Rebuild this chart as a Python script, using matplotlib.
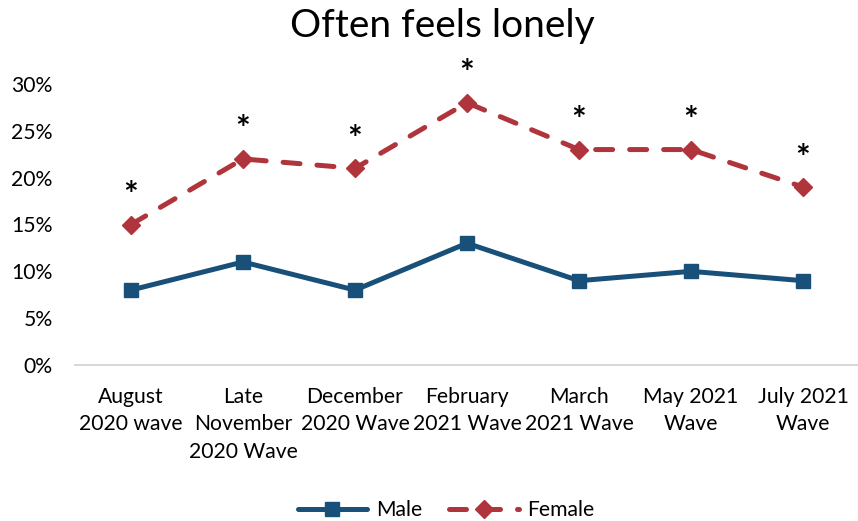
import matplotlib
matplotlib.use('Agg')
import matplotlib.pyplot as plt
from matplotlib.ticker import PercentFormatter

plt.rcParams['font.family'] = ['Lato', 'DejaVu Sans']

waves = ['August\n2020 wave', 'Late\nNovember\n2020 Wave', 'December\n2020 Wave',
         'February\n2021 Wave', 'March\n2021 Wave', 'May 2021\nWave', 'July 2021\nWave']
male = [8, 11, 8, 13, 9, 10, 9]
female = [15, 22, 21, 28, 23, 23, 19]
signif = [True, True, True, True, True, True, True]

blue = '#18507A'
red = '#B0343C'

fig = plt.figure(figsize=(8.58, 5.21), dpi=100)
ax = fig.add_axes([75/858, 156/521, 784/858, 281/521])

x = range(len(waves))
ax.plot(x, male, color=blue, lw=3.6, marker='s', ms=10, label='Male',
        solid_capstyle='round')
ax.plot(x, female, color=red, lw=3.6, ls=(0, (3.4, 3.4)), marker='D', ms=9,
        dash_capstyle='round', label='Female')

# significance marks above the female series
for i, (v, s) in enumerate(zip(female, signif)):
    if s:
        ax.annotate('*', (i, v), xytext=(0, 9), textcoords='offset points',
                    ha='center', va='bottom', fontsize=25, fontweight='bold',
                    annotation_clip=False)

ax.set_xlim(-0.5, len(waves) - 0.5)
ax.set_ylim(0, 30)
ax.set_yticks(range(0, 31, 5))
ax.yaxis.set_major_formatter(PercentFormatter(decimals=0))
ax.set_xticks(list(x))
ax.set_xticklabels(waves, fontsize=15.2, linespacing=1.45)
ax.tick_params(axis='y', labelsize=15.2, length=0, pad=16)
ax.tick_params(axis='x', length=0, pad=16)
for sp in ['top', 'right', 'left']:
    ax.spines[sp].set_visible(False)
ax.spines['bottom'].set_color('#d0d0d0')
ax.spines['bottom'].set_linewidth(1.2)

fig.suptitle('Often feels lonely', fontsize=28, x=0.515, y=0.985)
fig.legend(loc='lower center', ncol=2, frameon=False, fontsize=15.2,
           bbox_to_anchor=(0.52, -0.035), handlelength=3.3, handletextpad=0.4,
           columnspacing=1.3)

fig.savefig('out.png', dpi=100)
